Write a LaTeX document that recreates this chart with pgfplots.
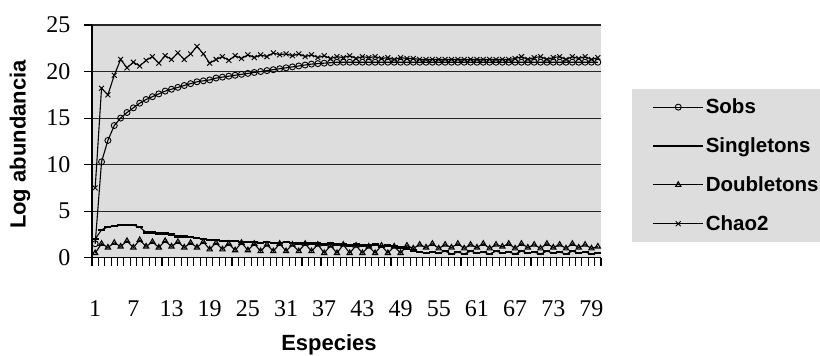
\documentclass[border=0pt]{standalone}
\usepackage{pgfplots}
\pgfplotsset{compat=1.18}
\usepackage{pgfplotstable}
\usepackage{fontspec}
\setmainfont{Liberation Serif}
\setsansfont{Liberation Sans}
\definecolor{bggray}{RGB}{221,221,221}
\pgfplotstableread{
x sobs sing doub chao
1 1.5 2.0 0.5 7.5
2 10.3 3.0 1.5 18.2
3 12.6 3.3 1.1 17.5
4 14.2 3.4 1.6 19.6
5 15.0 3.5 1.2 21.3
6 15.6 3.5 1.8 20.4
7 16.1 3.5 1.1 21.0
8 16.6 3.3 1.9 20.6
9 17.0 2.7 1.2 21.2
10 17.3 2.7 1.7 21.6
11 17.6 2.6 1.1 20.9
12 17.9 2.6 1.8 21.7
13 18.1 2.5 1.2 21.3
14 18.3 2.3 1.7 22.0
15 18.5 2.3 1.1 21.3
16 18.7 2.2 1.6 21.9
17 18.9 2.1 1.1 22.7
18 19.0 2.0 1.7 21.9
19 19.1 1.9 0.9 20.9
20 19.3 1.9 1.6 21.3
21 19.4 1.8 0.9 21.6
22 19.5 1.8 1.5 21.2
23 19.6 1.8 0.8 21.7
24 19.7 1.7 1.6 21.4
25 19.8 1.7 0.8 21.8
26 19.9 1.7 1.5 21.5
27 20.0 1.6 0.7 21.8
28 20.1 1.7 1.4 21.6
29 20.2 1.6 0.7 22.0
30 20.3 1.6 1.5 21.8
31 20.4 1.7 0.7 21.9
32 20.5 1.6 1.4 21.7
33 20.6 1.5 0.7 21.9
34 20.7 1.6 1.5 21.6
35 20.8 1.5 0.7 21.8
36 20.85 1.5 1.4 21.5
37 20.9 1.4 0.5 21.7
38 20.95 1.5 1.3 21.4
39 21.0 1.4 0.5 21.6
40 21.0 1.4 1.4 21.5
41 21.0 1.3 0.5 21.7
42 21.0 1.4 1.3 21.4
43 21.0 1.3 0.5 21.6
44 21.0 1.3 1.2 21.5
45 21.0 1.4 0.5 21.6
46 21.0 1.2 1.3 21.4
47 21.0 1.3 0.5 21.5
48 21.0 1.2 1.2 21.3
49 21.0 1.1 0.5 21.5
50 21.0 1.0 1.3 21.4
51 21.0 0.8 1.0 21.4
52 21.0 0.6 1.4 21.3
53 21.0 0.5 1.1 21.3
54 21.0 0.6 1.5 21.3
55 21.0 0.5 1.0 21.3
56 21.0 0.7 1.4 21.3
57 21.0 0.4 1.1 21.3
58 21.0 0.6 1.5 21.3
59 21.0 0.4 1.0 21.3
60 21.0 0.7 1.4 21.3
61 21.0 0.5 1.1 21.3
62 21.0 0.6 1.5 21.3
63 21.0 0.4 1.0 21.3
64 21.0 0.7 1.4 21.3
65 21.0 0.5 1.2 21.3
66 21.0 0.6 1.5 21.3
67 21.0 0.4 1.0 21.4
68 21.0 0.7 1.5 21.6
69 21.0 0.5 1.1 21.3
70 21.0 0.6 1.4 21.5
71 21.0 0.4 1.0 21.6
72 21.0 0.7 1.5 21.3
73 21.0 0.5 1.1 21.5
74 21.0 0.6 1.4 21.6
75 21.0 0.4 1.0 21.3
76 21.0 0.7 1.5 21.6
77 21.0 0.5 1.1 21.4
78 21.0 0.6 1.4 21.6
79 21.0 0.4 1.0 21.3
80 21.0 0.5 1.2 21.5
}\datatable
\begin{document}
\begin{tikzpicture}
\useasboundingbox (-92pt,-98.3pt) rectangle (728pt,257.7pt);
\begin{axis}[
  scale only axis,
  width=509pt, height=232.7pt,
  xmin=0.5, xmax=80.5, ymin=0, ymax=25,
  axis background/.style={fill=bggray},
  separate axis lines,
  axis x line*=bottom, axis y line*=left,
  axis line style={-, black, line width=1.2pt},
  xtick={0.5,1.5,...,80.5},
  xticklabels={},
  extra x ticks={1,7,...,79},
  extra x tick style={major tick length=0pt,
    xticklabel style={anchor=north, text height=17pt, text depth=0pt, yshift=-38pt}},
  ytick={0,5,...,25},
  tick align=outside,
  major tick length=8pt,
  tick style={black, line width=1.1pt},
  ymajorgrids,
  grid style={black!85, line width=1.1pt},
  /pgf/number format/assume math mode=true,
  ticklabel style={font=\fontsize{24}{26}\selectfont},
  yticklabel style={xshift=-10pt},
  xlabel={Especies},
  ylabel={Log abundancia},
  label style={font=\sffamily\bfseries\fontsize{22}{24}\selectfont},
  x label style={at={(axis description cs:0.4656,-0.374)}, anchor=center},
  y label style={at={(axis description cs:-0.1415,0.486)}, anchor=center},
  legend style={at={(axis description cs:1.061,0.726)}, anchor=north west,
    fill=bggray, draw=none, font=\sffamily\bfseries\fontsize{20.5}{23}\selectfont,
    inner xsep=11pt, inner ysep=8pt, row sep=18.5pt},
  legend cell align=left,
  legend image code/.code={%
    \path[draw=none] (-10pt,0pt) -- (50pt,0pt);
    \draw[mark repeat=2,mark phase=2,#1] plot coordinates {(0pt,0pt) (25pt,0pt) (50pt,0pt)};},
  every axis plot/.append style={black, line width=1.1pt, mark size=3pt, mark options={solid, line width=0.9pt}},
]
\addplot[mark=o] table[x=x,y=sobs]{\datatable};
\addplot[mark=-, mark size=3.5pt, mark options={line width=2.5pt}] table[x=x,y=sing]{\datatable};
\addplot[mark=triangle, mark options={fill=white}] table[x=x,y=doub]{\datatable};
\addplot[mark=x, mark size=3.5pt] table[x=x,y=chao]{\datatable};
\legend{Sobs,Singletons,Doubletons,Chao2}
\end{axis}
\end{tikzpicture}
\end{document}
